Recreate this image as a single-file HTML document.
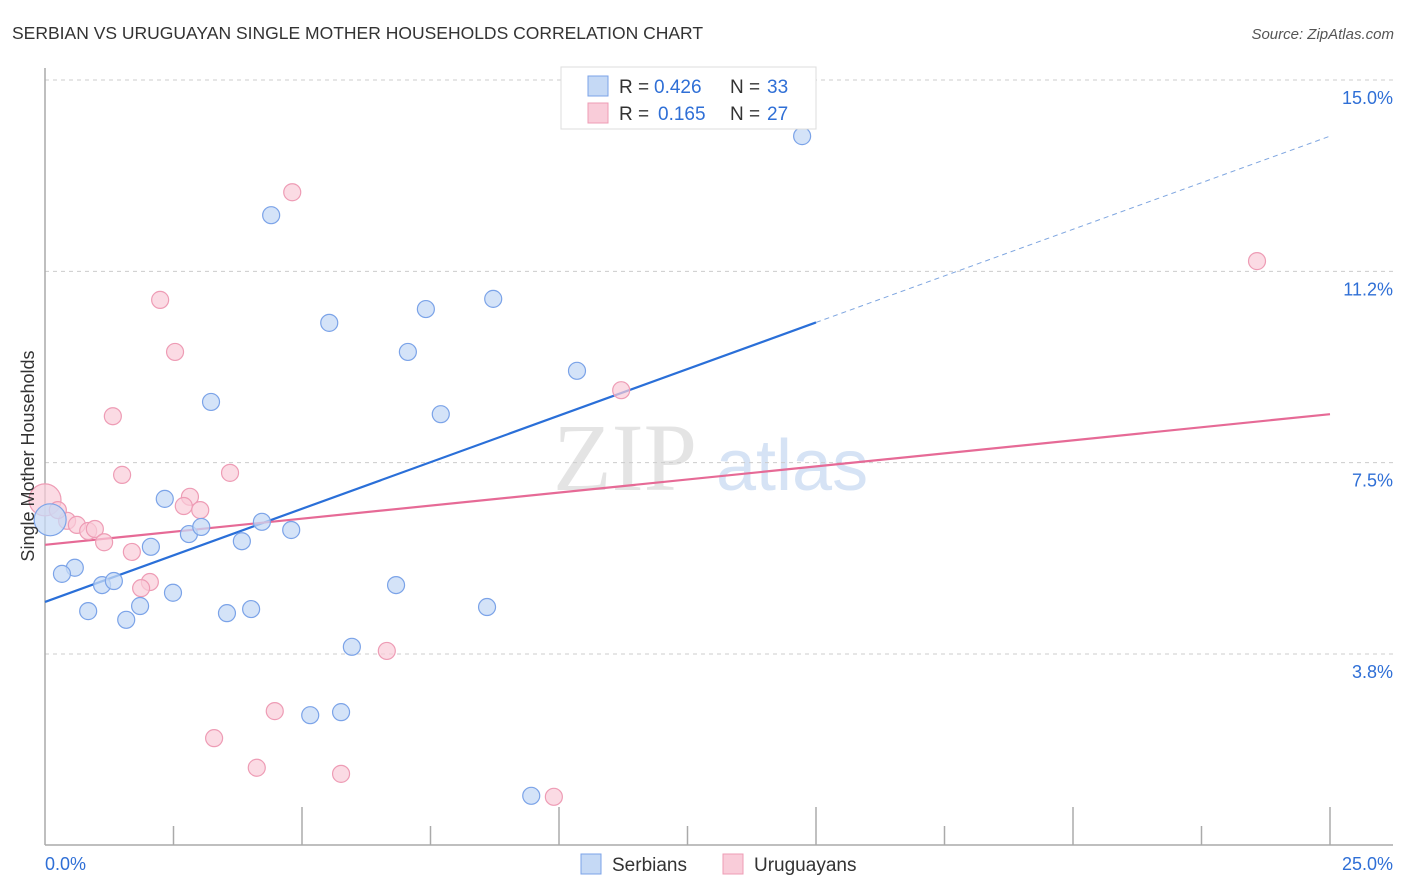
<!DOCTYPE html>
<html><head><meta charset="utf-8"><style>
body{margin:0;background:#fff;font-family:"Liberation Sans",sans-serif}
svg{display:block}
</style></head><body>
<svg id="chart" width="1406" height="892" xmlns="http://www.w3.org/2000/svg">
<text x="12" y="39" font-size="17.5" fill="#333">SERBIAN VS URUGUAYAN SINGLE MOTHER HOUSEHOLDS CORRELATION CHART</text>
<text x="1394" y="39" font-size="15" fill="#555" font-style="italic" text-anchor="end">Source: ZipAtlas.com</text>
<g>
<text x="553" y="490" font-size="96" font-family="Liberation Serif,serif" fill="#e4e4e4">ZIP</text>
<text x="716" y="490" font-size="72" fill="#d6e3f5">atlas</text>
</g>
<g id="grid"></g>
<g id="axes"></g>
<g id="trends"></g>
<g id="points"></g>
<text transform="translate(34,456) rotate(-90)" font-size="18" fill="#333" text-anchor="middle">Single Mother Households</text>
<g>
<rect x="561" y="67" width="255" height="62" fill="#fff" stroke="#ddd"/>
<g>
<rect x="588" y="76" width="20" height="20" fill="#c5d9f5" stroke="#7ba3e8"/>
<text x="619" y="93" font-size="19" fill="#333">R = </text><text x="654" y="93" font-size="19" fill="#2f6fd6">0.426</text>
<text x="730" y="93" font-size="19" fill="#333">N = </text><text x="767" y="93" font-size="19" fill="#2f6fd6">33</text>
</g>
<g>
<rect x="588" y="103" width="20" height="20" fill="#f9ccd9" stroke="#ee9cb5"/>
<text x="619" y="120" font-size="19" fill="#333">R = </text><text x="658" y="120" font-size="19" fill="#2f6fd6">0.165</text>
<text x="730" y="120" font-size="19" fill="#333">N = </text><text x="767" y="120" font-size="19" fill="#2f6fd6">27</text>
</g>
</g>
<g>
<rect x="581" y="854" width="20" height="20" fill="#c5d9f5" stroke="#7ba3e8"/>
<text x="612" y="871" font-size="19" fill="#333">Serbians</text>
<rect x="723" y="854" width="20" height="20" fill="#f9ccd9" stroke="#ee9cb5"/>
<text x="754" y="871" font-size="19" fill="#333">Uruguayans</text>
</g>
</svg>
<script>
const yTicks=[15.0,11.25,7.5,3.75];
const yTickLabels=["15.0%","11.2%","7.5%","3.8%"];
const xTicks=[0,2.5,5,7.5,10,12.5,15,17.5,20,22.5,25];
const serbX=[14.73,4.40,5.53,7.41,8.72,7.06,10.35,3.23,7.70,2.33,2.80,3.04,2.06,3.83,4.22,4.79,0.58,0.33,1.11,1.34,6.83,0.84,1.85,2.49,1.58,3.54,4.01,8.60,5.97,5.16,5.76,9.46,0.10];
const serbY=[13.90,12.35,10.24,10.51,10.71,9.67,9.30,8.69,8.45,6.79,6.10,6.24,5.85,5.96,6.34,6.18,5.44,5.32,5.10,5.18,5.10,4.59,4.69,4.95,4.42,4.55,4.63,4.67,3.89,2.55,2.61,0.97,6.38];
const uruX=[4.81,2.24,2.53,1.32,1.50,3.60,11.21,23.58,2.82,2.70,3.02,0.43,0.62,0.84,0.97,1.15,1.69,2.04,1.87,6.65,4.47,3.29,4.12,5.76,9.90,0.0,0.25];
const uruY=[12.80,10.69,9.67,8.41,7.26,7.30,8.92,11.45,6.83,6.65,6.57,6.36,6.28,6.16,6.20,5.94,5.75,5.16,5.04,3.81,2.63,2.10,1.52,1.40,0.95,6.77,6.57];
const serbTrend=[4.77,13.90];
const uruTrend=[5.89,8.45];
const NS="http://www.w3.org/2000/svg";
const X=v=>45+v*51.4, Y=v=>80+(15-v)*51.02;
function mk(tag,attrs,parent){const e=document.createElementNS(NS,tag);for(const k in attrs)e.setAttribute(k,attrs[k]);document.getElementById(parent).appendChild(e);return e;}
yTicks.forEach((t,i)=>{
 const g=mk('line',{x1:45,x2:1393,y1:Y(t),y2:Y(t),stroke:'#ccc','stroke-dasharray':'4,4'},'grid');
 
 
 const l=mk('text',{x:1393,y:Y(t)+24,'font-size':18,fill:'#2f6fd6','text-anchor':'end'},'grid');
 l.textContent=yTickLabels[i];
 
 
});
const ax=mk('line',{x1:45,x2:45,y1:68,y2:845,stroke:'#aaa','stroke-width':1.5},'axes');


const bx=mk('line',{x1:45,x2:1393,y1:845,y2:845,stroke:'#aaa','stroke-width':1.5},'axes');


xTicks.forEach((t,i)=>{
 if(i===0)return;
 const tk=mk('line',{x1:X(t),x2:X(t),y1:(i%2===0?807:826),y2:845,stroke:'#aaa','stroke-width':1.5},'axes');
 
 
});
const xl0=mk('text',{x:45,y:870,'font-size':18,fill:'#2f6fd6'},'axes');xl0.textContent=xTicks[0].toFixed(1)+'%';


const xl1=mk('text',{x:1393,y:870,'font-size':18,fill:'#2f6fd6','text-anchor':'end'},'axes');xl1.textContent=xTicks[xTicks.length-1].toFixed(1)+'%';


const sAt=v=>serbTrend[0]+(serbTrend[1]-serbTrend[0])*v/25;
const t1=mk('line',{x1:X(0),y1:Y(sAt(0)),x2:X(15),y2:Y(sAt(15)),stroke:'#2a6fd8','stroke-width':2.2},'trends');


const t2=mk('line',{x1:X(15),y1:Y(sAt(15)),x2:X(25),y2:Y(sAt(25)),stroke:'#7fa6e0','stroke-width':1,'stroke-dasharray':'5,4'},'trends');


const t3=mk('line',{x1:X(0),y1:Y(uruTrend[0]),x2:X(25),y2:Y(uruTrend[1]),stroke:'#e66a96','stroke-width':2.2},'trends');


uruX.forEach((x,i)=>{
 const big=i===25;
 const c=mk('circle',{cx:X(x),cy:Y(uruY[i]),r:big?16:8.5,fill:'#f9ccd9','fill-opacity':0.7,stroke:'#ee9cb5','stroke-width':1.2},'points');
 
 
});
serbX.forEach((x,i)=>{
 const big=i===32;
 const c=mk('circle',{cx:X(x),cy:Y(serbY[i]),r:big?16:8.5,fill:'#c5d9f5','fill-opacity':0.75,stroke:'#7ba3e8','stroke-width':1.2},'points');
 
 
});
</script>
</body></html>
